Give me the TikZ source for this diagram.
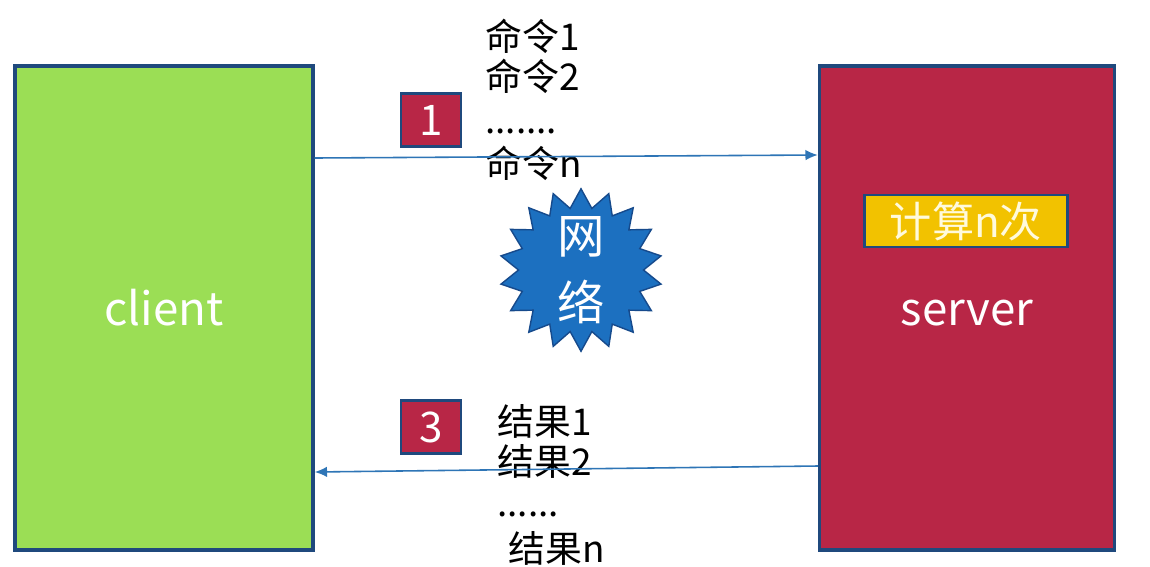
\documentclass[tikz,border=0pt]{standalone}
\usepackage{fontspec}
\setmainfont{Noto Sans CJK SC}
\usetikzlibrary{shapes.geometric,arrows.meta}
\definecolor{cgreen}{RGB}{155,222,85}
\definecolor{cred}{RGB}{184,38,70}
\definecolor{cyellow}{RGB}{242,194,0}
\definecolor{cborder}{RGB}{31,73,125}
\definecolor{carrow}{RGB}{46,117,182}
\definecolor{cstar}{RGB}{28,112,192}
\definecolor{cstarline}{RGB}{22,74,140}
\definecolor{ccream}{RGB}{255,250,220}
\tikzset{
  bigbox/.style={draw=cborder,line width=2pt,inner sep=0pt,text=white,font=\fontsize{26}{30}\selectfont},
  badge/.style={draw=cborder,fill=cred,line width=1.6pt,minimum width=1.2cm,minimum height=1.06cm,inner sep=0pt,text=white,font=\fontsize{24}{28}\selectfont},
  msg/.style={anchor=west,inner sep=0pt,text=black,font=\fontsize{21}{24}\selectfont},
  link/.style={draw=carrow,line width=0.9pt,-{Latex[length=7pt,width=6pt]}},
}
\begin{document}
\begin{tikzpicture}[x=0.02cm,y=-0.02cm]
\useasboundingbox[fill=white] (0,0) rectangle (1150,566);
\node[bigbox,fill=cgreen,minimum width=5.96cm,minimum height=9.68cm] (client) at (164,308) {client};
\node[bigbox,fill=cred,minimum width=5.9cm,minimum height=9.68cm] (server) at (967,308) {server\vphantom{l}};
\node[draw=cborder,fill=cyellow,line width=1.6pt,minimum width=4.06cm,minimum height=1.04cm,inner sep=0pt,text=ccream,font=\fontsize{24}{28}\selectfont] (calc) at (966,221) {计算n次};
\node[badge] (b1) at (431,120) {1};
\node[badge] (b3) at (431,427) {3};
\node[star,star points=18,star point ratio=1.3,minimum size=3.25cm,inner sep=0pt,fill=cstar,draw=cstarline,line width=0.8pt] (net) at (581,270) {};
\node[text=white,align=center,font=\fontsize{27}{38}\selectfont] (nettext) at (net.center) {网\\络};
\node[msg] (c1) at (485,36) {命令1};
\node[msg] (c2) at (485,76) {命令2};
\node[msg] (cd) at (485,131) {.......};
\node[msg] (cn) at (485,163) {命令n};
\node[msg] (r1) at (497,421) {结果1};
\node[msg] (r2) at (497,461) {结果2};
\node[msg] (rd) at (497,514) {......};
\node[msg] (rn) at (508,548) {结果n};
\coordinate (a1s) at (client.east |- 0,158);
\coordinate (a1e) at (server.west |- 0,155);
\coordinate (a3s) at (server.west |- 0,466);
\coordinate (a3e) at (client.east |- 0,472);
\draw[link] (a1s) -- (a1e);
\draw[link] (a3s) -- (a3e);
\end{tikzpicture}
\end{document}
